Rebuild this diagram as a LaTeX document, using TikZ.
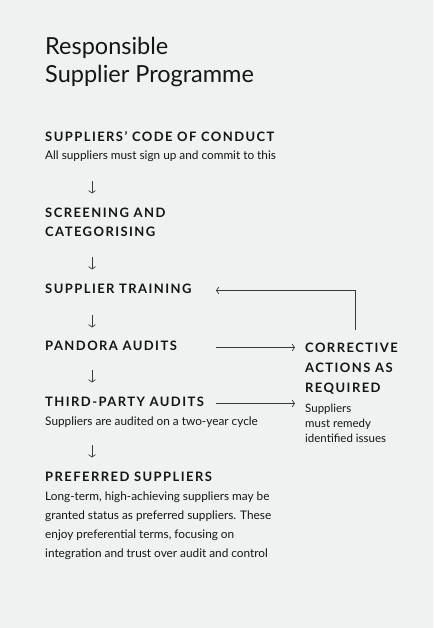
\documentclass[tikz,border=0pt]{standalone}
\usepackage{fontspec}
\setmainfont{Lato}
\newfontfamily\headfont[LetterSpace=11]{Lato}
\usepackage{xcolor}
\usetikzlibrary{arrows.meta,positioning}
\definecolor{pagebg}{HTML}{F0F1F1}
\definecolor{ink}{HTML}{151515}
\definecolor{lineink}{HTML}{3A3A3A}
% lines stacked from the first baseline down
\newcommand{\linestack}[1]{\begin{tabular}[t]{@{}l@{}}#1\end{tabular}}
\tikzset{
  titletext/.style={anchor=base west, inner sep=0pt, text=ink, font=\fontsize{23.5}{28}\selectfont},
  heading/.style={anchor=base west, inner sep=0pt, text=ink, font=\headfont\bfseries\fontsize{13}{19}\selectfont},
  bodytext/.style={anchor=base west, inner sep=0pt, text=ink, font=\fontsize{11.8}{19}\selectfont},
  smalltext/.style={anchor=base west, inner sep=0pt, text=ink, font=\fontsize{11.5}{15}\selectfont},
  downarr/.style={-{Straight Barb[length=2.5pt,width=7pt]}, line width=0.7pt, draw=lineink},
  sidearr/.style={-{Straight Barb[length=2.5pt,width=7pt]}, line width=0.7pt, draw=lineink}
}
\begin{document}
\begin{tikzpicture}[x=1pt,y=-1pt]
\fill[pagebg] (0,0) rectangle (433,628);
\useasboundingbox (0,0) rectangle (433,628);
\node[titletext] (title) at (45,55) {\linestack{Responsible\\Supplier Programme}};
\node[heading] (code) at (45,142) {SUPPLIERS’ CODE OF CONDUCT};
\node[bodytext] (codetxt) at (45,160) {All suppliers must sign up and commit to this};
\node[heading] (screen) at (45,218) {\linestack{SCREENING AND\\CATEGORISING}};
\node[heading] (train) at (45,293) {SUPPLIER TRAINING};
\node[heading] (pandora) at (45,350) {PANDORA AUDITS};
\node[heading] (third) at (45,406) {THIRD-PARTY AUDITS};
\node[bodytext] (thirdtxt) at (45,425) {Suppliers are audited on a two-year cycle};
\node[heading] (pref) at (45,481) {PREFERRED SUPPLIERS};
\node[bodytext] (preftxt) at (45,500) {\linestack{Long-term, high-achieving suppliers may be\\granted status as preferred suppliers. These\\enjoy preferential terms, focusing on\\integration and trust over audit and control}};
\node[heading, font=\headfont\bfseries\fontsize{13}{20}\selectfont] (corr) at (305,352) {\linestack{CORRECTIVE\\ACTIONS AS\\REQUIRED}};
\node[smalltext] (corrtxt) at (305,412) {\linestack{Suppliers\\must remedy\\identified issues}};
% down arrows of the main flow
\foreach \n/\y in {1/181,2/257,3/315,4/370,5/445} {
  \coordinate (d\n) at (92,\y);
  \draw[downarr] (d\n) -- ++(0,12.5);
}
% side arrows
\coordinate (col) at (216,0);
\coordinate (fb) at (355,330);
\draw[sidearr, shorten >=10pt] (pandora.mid -| col) -- (pandora.mid -| corr.west);
\draw[sidearr, shorten >=10pt] (third.mid -| col) -- (third.mid -| corr.west);
\draw[sidearr] (fb) |- (train.mid -| col);
\end{tikzpicture}
\end{document}
